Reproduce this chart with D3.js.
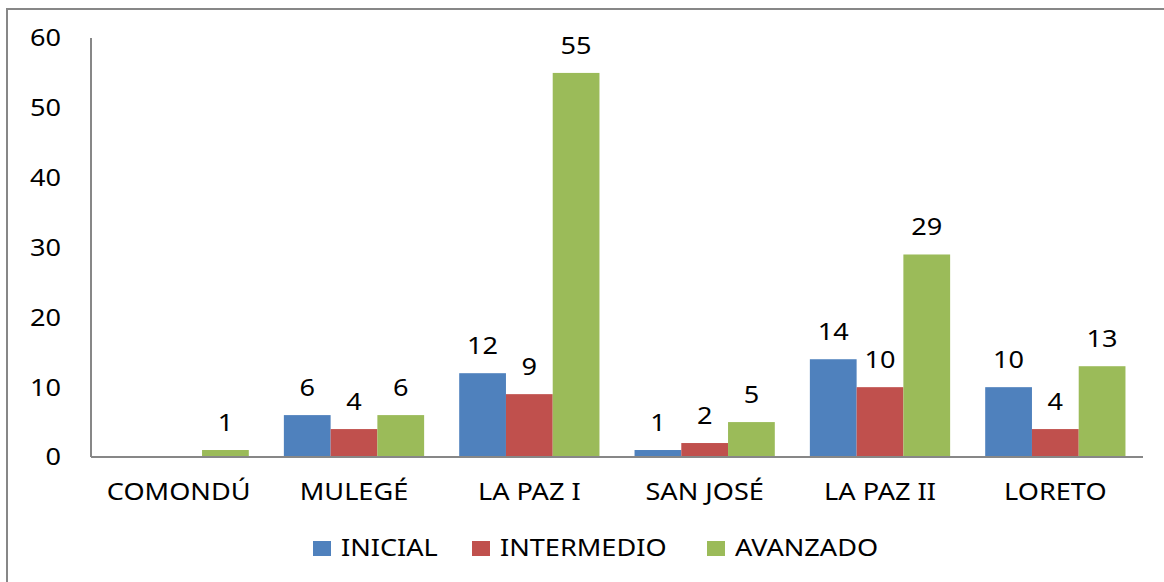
<!DOCTYPE html>
<html>
<head>
<meta charset="utf-8">
<script src="https://cdn.jsdelivr.net/npm/d3@7"></script>
<style>
  html, body { margin: 0; padding: 0; background: #fff; }
  svg { display: block; }
  text { font-family: "Noto Sans", sans-serif; fill: #000; }
</style>
</head>
<body>
<div id="chart"></div>
<script>
const categories = ['COMONDÚ', 'MULEGÉ', 'LA PAZ I', 'SAN JOSÉ', 'LA PAZ II', 'LORETO'];
const seriesNames = ['INICIAL', 'INTERMEDIO', 'AVANZADO'];
const inicial = [0, 6, 12, 1, 14, 10];
const intermedio = [0, 4, 9, 2, 10, 4];
const avanzado = [1, 6, 55, 5, 29, 13];
const yTicks = [0, 10, 20, 30, 40, 50, 60];
const colors = ['#4F81BD', '#C0504D', '#9BBB59'];

const width = 1164;
const height = 582;
const plot = { left: 91, right: 1143, top: 38, bottom: 457 };
const sx = 1.13; // text is drawn a bit wide in the original

const seriesValues = [inicial, intermedio, avanzado];

const svg = d3.select('#chart').append('svg')
  .attr('width', width)
  .attr('height', height);

// outer frame
svg.append('rect')
  .attr('x', 7).attr('y', 9)
  .attr('width', width + 20).attr('height', height + 20)
  .attr('fill', 'none')
  .attr('stroke', '#878787')
  .attr('stroke-width', 2);

const x0 = d3.scaleBand()
  .domain(categories)
  .range([plot.left, plot.right])
  .padding(0);

const x1 = d3.scaleBand()
  .domain(seriesNames)
  .range([x0.bandwidth() * 0.1, x0.bandwidth() * 0.9])
  .padding(0);

const y = d3.scaleLinear()
  .domain([0, 60])
  .range([plot.bottom, plot.top]);

function label(g, tx, ty, str, anchor) {
  return g.append('text')
    .attr('transform', `translate(${tx},${ty}) scale(${sx},1)`)
    .attr('text-anchor', anchor || 'middle')
    .attr('font-size', 24)
    .text(str);
}

// y tick labels
const yg = svg.append('g');
yTicks.forEach((t) => {
  label(yg, 61, y(t), t, 'end').attr('dy', '0.35em');
});

// bars
const groups = svg.append('g').selectAll('g')
  .data(categories)
  .enter().append('g')
  .attr('transform', d => `translate(${x0(d)},0)`);

groups.each(function (cat, ci) {
  const g = d3.select(this);
  seriesNames.forEach((s, si) => {
    const v = seriesValues[si][ci];
    if (!v) return;
    g.append('rect')
      .attr('x', x1(s))
      .attr('y', y(v))
      .attr('width', x1.bandwidth())
      .attr('height', y(0) - y(v))
      .attr('fill', colors[si]);
    label(g, x1(s) + x1.bandwidth() / 2, y(v) - 19, v);
  });
});

// axes lines
svg.append('line')
  .attr('x1', plot.left).attr('x2', plot.left)
  .attr('y1', plot.top).attr('y2', plot.bottom)
  .attr('stroke', '#878787').attr('stroke-width', 2);
svg.append('line')
  .attr('x1', plot.left).attr('x2', plot.right)
  .attr('y1', plot.bottom).attr('y2', plot.bottom)
  .attr('stroke', '#878787').attr('stroke-width', 2);

// category labels
const xg = svg.append('g');
categories.forEach((c) => {
  label(xg, x0(c) + x0.bandwidth() / 2, 500, c);
});

// legend
const legendX = [313, 472, 707];
const lg = svg.append('g');
seriesNames.forEach((s, i) => {
  lg.append('rect')
    .attr('x', legendX[i]).attr('y', 541)
    .attr('width', 18).attr('height', 15)
    .attr('fill', colors[i]);
  label(lg, legendX[i] + 28, 556, s, 'start');
});
</script>
</body>
</html>
